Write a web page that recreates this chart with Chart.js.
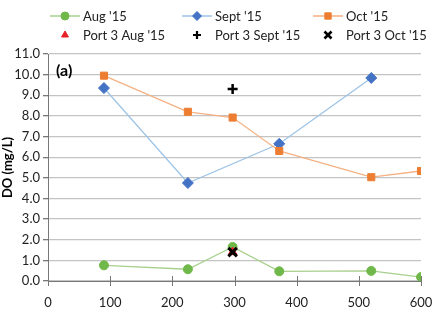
<!DOCTYPE html>
<html>
<head>
<meta charset="utf-8">
<script src="https://cdn.jsdelivr.net/npm/chart.js@4"></script>
<style>
  html, body { margin: 0; padding: 0; background: #fff; }
  #wrap { width: 442px; height: 315px; position: relative; }
</style>
</head>
<body>
<div id="wrap"><canvas id="chart" width="442" height="315"></canvas></div>
<script>
// distance positions (x) and DO values per campaign
const xAll = [90, 225, 297, 372, 520, 600];
const xSept = [90, 225, 372, 520];
const augValues = [0.76, 0.57, 1.65, 0.47, 0.49, 0.19];
const septValues = [9.35, 4.75, 6.65, 9.84];
const octValues = [9.95, 8.2, 7.92, 6.3, 5.03, 5.33];
const port3X = [297];
const port3Aug = [1.4];
const port3Sept = [9.3];
const port3Oct = [1.4];
const legendLabels = ["Aug '15", "Sept '15", "Oct '15", "Port 3 Aug '15", "Port 3 Sept '15", "Port 3 Oct '15"];
const yTicks = [0, 1, 2, 3, 4, 5, 6, 7, 8, 9, 10, 11];

const FONT = 'Lato, "Liberation Sans", sans-serif';

function pts(xs, ys) {
  return xs.map((x, i) => ({ x: x, y: ys[i] }));
}

function drawMarker(ctx, style, x, y, r) {
  ctx.beginPath();
  Chart.helpers.drawPoint(ctx, { pointStyle: style, radius: r, borderWidth: ctx.lineWidth }, x, y);
}

// legend drawn by hand, laid out in 3 columns x 2 rows like the original
const legendPlugin = {
  id: 'gridLegend',
  afterDraw(chart) {
    const ctx = chart.ctx;
    const cols = [50, 182, 313];
    const rows = [16, 35];
    ctx.save();
    ctx.font = '13px ' + FONT;
    ctx.textBaseline = 'middle';
    chart.data.datasets.forEach((ds, i) => {
      const cx = cols[i % 3];
      const cy = rows[Math.floor(i / 3)];
      const mid = cx + 15;
      if (ds.showLine) {
        ctx.strokeStyle = ds.borderColor;
        ctx.lineWidth = 1.5;
        ctx.beginPath();
        ctx.moveTo(cx, cy);
        ctx.lineTo(cx + 30, cy);
        ctx.stroke();
      }
      ctx.fillStyle = ds.pointBackgroundColor;
      ctx.strokeStyle = ds.pointBorderColor;
      ctx.lineWidth = ds.legendBorder;
      drawMarker(ctx, ds.pointStyle, mid, cy, ds.legendRadius);
      ctx.fillStyle = '#222';
      ctx.fillText(legendLabels[i], cx + 33, cy + 1);
    });
    ctx.restore();
  }
};

// small ticks that cross the x axis, "(a)" label
const extrasPlugin = {
  id: 'extras',
  afterDraw(chart) {
    const ctx = chart.ctx;
    const xs = chart.scales.x;
    const area = chart.chartArea;
    ctx.save();
    ctx.strokeStyle = '#777';
    ctx.lineWidth = 1;
    xs.ticks.forEach(t => {
      const px = Math.round(xs.getPixelForValue(t.value)) + 0.5;
      ctx.beginPath();
      ctx.moveTo(px, area.bottom - 5);
      ctx.lineTo(px, area.bottom + 5);
      ctx.stroke();
    });
    ctx.font = 'bold 16px ' + FONT;
    ctx.fillStyle = '#000';
    ctx.textBaseline = 'middle';
    ctx.fillText('(a)', area.left + 8, 71);
    ctx.restore();
  }
};

new Chart(document.getElementById('chart'), {
  type: 'scatter',
  data: {
    datasets: [
      {
        label: legendLabels[0], data: pts(xAll, augValues), showLine: true,
        borderColor: '#a8d08d', borderWidth: 1.3,
        pointStyle: 'circle', pointRadius: 4.5, pointBorderWidth: 1,
        pointBackgroundColor: '#70b84a', pointBorderColor: '#70b84a', order: 3,
        legendRadius: 4, legendBorder: 1
      },
      {
        label: legendLabels[1], data: pts(xSept, septValues), showLine: true,
        borderColor: '#9dc3e6', borderWidth: 1.3,
        pointStyle: 'rectRot', pointRadius: 5.5, pointBorderWidth: 1,
        pointBackgroundColor: '#4472c4', pointBorderColor: '#4472c4', order: 2,
        legendRadius: 4.5, legendBorder: 1
      },
      {
        label: legendLabels[2], data: pts(xAll, octValues), showLine: true,
        borderColor: '#f4b183', borderWidth: 1.3,
        pointStyle: 'rect', pointRadius: 5, pointBorderWidth: 1,
        pointBackgroundColor: '#ed7d31', pointBorderColor: '#ed7d31', order: 1,
        legendRadius: 4.5, legendBorder: 1
      },
      {
        label: legendLabels[3], data: pts(port3X, port3Aug), showLine: false,
        pointStyle: 'triangle', pointRadius: 5, pointBorderWidth: 1,
        pointBackgroundColor: '#e8202a', pointBorderColor: '#e8202a', order: 0,
        legendRadius: 4, legendBorder: 1
      },
      {
        label: legendLabels[4], data: pts(port3X, port3Sept), showLine: false,
        pointStyle: 'cross', pointRadius: 5, pointBorderWidth: 2.5,
        pointBackgroundColor: '#000', pointBorderColor: '#000', order: 0,
        legendRadius: 4, legendBorder: 2.2
      },
      {
        label: legendLabels[5], data: pts(port3X, port3Oct), showLine: false,
        pointStyle: 'crossRot', pointRadius: 6, pointBorderWidth: 3,
        pointBackgroundColor: '#000', pointBorderColor: '#000', order: -1,
        legendRadius: 5, legendBorder: 2.6
      }
    ]
  },
  options: {
    responsive: false,
    animation: false,
    layout: { padding: { top: 54, right: 21, left: 0, bottom: 0 } },
    plugins: {
      legend: { display: false },
      tooltip: { enabled: false }
    },
    scales: {
      x: {
        type: 'linear', min: 0, max: 600,
        ticks: { stepSize: 100, color: '#222', font: { family: FONT, size: 13 }, padding: 6 },
        grid: { display: false },
        border: { color: '#777', width: 1 },
        afterFit(scale) { scale.height = 34; }
      },
      y: {
        min: 0, max: 11,
        afterBuildTicks(scale) { scale.ticks = yTicks.map(v => ({ value: v })); },
        ticks: {
          color: '#222', font: { family: FONT, size: 13 }, padding: 3,
          callback: v => v.toFixed(1)
        },
        grid: { color: '#c4c4c4', lineWidth: 1.3, tickLength: 5, tickColor: '#777' },
        border: { color: '#777', width: 1 },
        title: {
          display: true, text: 'DO (mg/L)', color: '#000',
          font: { family: FONT, size: 13, weight: 'bold' }, padding: { top: 0, bottom: 2 }
        },
        afterFit(scale) { scale.width = 48; }
      }
    }
  },
  plugins: [legendPlugin, extrasPlugin]
});
</script>
</body>
</html>
